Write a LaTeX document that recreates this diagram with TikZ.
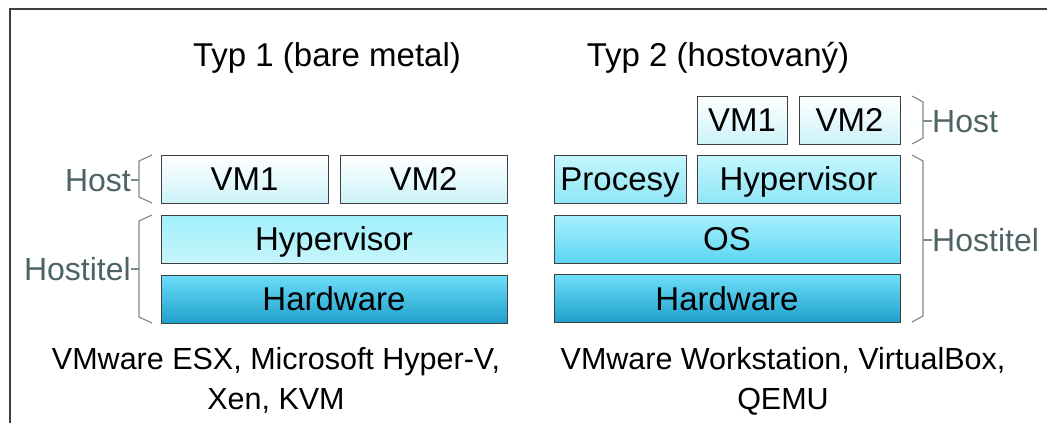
\documentclass[tikz,border=0pt]{standalone}
\usepackage{fontspec}
\setmainfont{Liberation Sans}
\usepackage{tikz}

\definecolor{vmbot}{RGB}{204,243,250}
\definecolor{hyptop}{RGB}{158,240,252}
\definecolor{hypbot}{RGB}{200,245,251}
\definecolor{hwtop}{RGB}{110,222,249}
\definecolor{hwbot}{RGB}{30,160,204}
\definecolor{ostop}{RGB}{168,240,252}
\definecolor{osbot}{RGB}{92,214,244}
\definecolor{prtop}{RGB}{196,246,252}
\definecolor{prbot}{RGB}{144,230,248}
\definecolor{labelgray}{RGB}{78,100,100}
\definecolor{bracegray}{RGB}{120,138,138}
\definecolor{framegray}{RGB}{64,64,64}

\tikzset{
  layer/.style={draw=black!75, line width=1pt, rectangle, inner sep=0pt,
    font=\fontsize{33}{33}\selectfont, text height=23.6pt, text depth=0pt},
  vmbox/.style={layer, top color=white, bottom color=vmbot},
  hypbox/.style={layer, top color=hyptop, bottom color=hypbot},
  hwbox/.style={layer, top color=hwtop, bottom color=hwbot},
  osbox/.style={layer, top color=ostop, bottom color=osbot},
  prbox/.style={layer, top color=prtop, bottom color=prbot},
  sidelabel/.style={text=labelgray, inner sep=0pt,
    font=\fontsize{32}{32}\selectfont, text height=22.9pt, text depth=0pt},
  bracket/.style={draw=bracegray, line width=1.1pt},
  title/.style={inner sep=0pt, font=\fontsize{33}{33}\selectfont,
    text height=23.6pt, text depth=0pt},
  examples/.style={inner sep=0pt, align=center, font=\fontsize{30.5}{40}\selectfont}
}

\begin{document}
\begin{tikzpicture}[x=1pt, y=-1pt]

\useasboundingbox (0,0) rectangle (1047,423);

% frame (only top and left edges are visible)
\draw[framegray, line width=2pt] (9.5,423) -- (9.5,8.5) -- (1047,8.5);

% Type 1
\node[title] (t1) at (327,55) {Typ 1 (bare metal)};

\node[vmbox, minimum width=167pt, minimum height=48pt] (vm1a) at (244.5,179) {VM1};
\node[vmbox, minimum width=167pt, minimum height=48pt] (vm2a) at (423.5,179) {VM2};
\node[hypbox, minimum width=346pt, minimum height=48pt] (hypa) at (334,239) {Hypervisor};
\node[hwbox, minimum width=346pt, minimum height=48pt] (hwa) at (334,299) {Hardware};

\node[sidelabel, anchor=east] (hosta) at (131,180) {Host};
\node[sidelabel, anchor=east] (hostitela) at (131,269) {Hostitel};

% left brackets
\draw[bracket] (152,155) -- (139,161) -- (139,197) -- (152,203);
\draw[bracket] (139,180) -- (hosta.east);
\draw[bracket] (152,215) -- (139,221) -- (139,317) -- (152,323);
\draw[bracket] (139,269) -- (hostitela.east);

\node[examples, anchor=north] (exa) at (276,347) {VMware ESX, Microsoft Hyper-V,\\Xen, KVM};

% Type 2
\node[title] (t2) at (718,55) {Typ 2 (hostovaný)};

\node[vmbox, minimum width=90pt, minimum height=48pt] (vm1b) at (742,120) {VM1};
\node[vmbox, minimum width=101pt, minimum height=48pt] (vm2b) at (849.5,120) {VM2};
\node[prbox, minimum width=132pt, minimum height=48pt] (proc) at (620,179) {Procesy};
\node[prbox, minimum width=203pt, minimum height=48pt] (hypb) at (798.5,179) {Hypervisor};
\node[osbox, minimum width=346pt, minimum height=48pt] (os) at (727,239) {OS};
\node[hwbox, minimum width=346pt, minimum height=48pt] (hwb) at (727,298.5) {Hardware};

\node[sidelabel, anchor=west] (hostb) at (932,121) {Host};
\node[sidelabel, anchor=west] (hostitelb) at (932,240) {Hostitel};

% right brackets
\draw[bracket] (912,96) -- (923,102) -- (923,138) -- (912,144);
\draw[bracket] (923,121) -- (hostb.west);
\draw[bracket] (912,155) -- (923,161) -- (923,316) -- (912,322);
\draw[bracket] (923,240) -- (hostitelb.west);

\node[examples, anchor=north] (exb) at (783,347) {VMware Workstation, VirtualBox,\\QEMU};

\end{tikzpicture}
\end{document}
